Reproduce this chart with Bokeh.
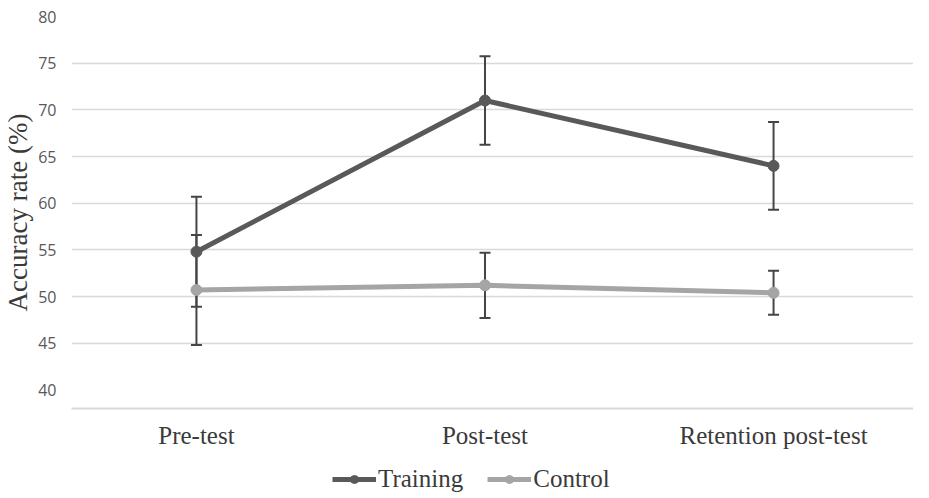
from bokeh.plotting import figure
from bokeh.layouts import column
from bokeh.models import (Range1d, FixedTicker, Whisker, TeeHead, ColumnDataSource,
                          Legend, LegendItem)
from bokeh.embed import file_html
from bokeh.resources import INLINE

categories = ["Pre-test", "Post-test", "Retention post-test"]
training = [54.8, 71.0, 64.0]
training_err = [5.9, 4.75, 4.7]
control = [50.7, 51.2, 50.4]
control_err = [5.9, 3.5, 2.35]
y_ticks = [40, 45, 50, 55, 60, 65, 70, 75, 80]

xs = list(range(len(categories)))

TRAIN_C = "#595959"
CTRL_C = "#a5a5a5"
ERR_C = "#454545"
SERIF = "Liberation Serif"

p = figure(width=913, height=451, output_backend="svg", toolbar_location=None,
           x_range=Range1d(-0.433, 2.485), y_range=Range1d(38.0, 80.0),
           min_border_top=16, min_border_right=0, min_border_bottom=42, min_border_left=64)
p.outline_line_color = None
p.background_fill_color = "white"
p.border_fill_color = "white"

p.xgrid.visible = False
p.ygrid.ticker = FixedTicker(ticks=[t for t in y_ticks if t > 40])
p.ygrid.grid_line_color = "#d9d9d9"
p.ygrid.grid_line_width = 1.6

p.yaxis.ticker = FixedTicker(ticks=y_ticks)
p.yaxis.axis_line_color = None
p.yaxis.major_tick_line_color = None
p.yaxis.minor_tick_line_color = None
p.yaxis.major_label_text_font = "Open Sans"
p.yaxis.major_label_text_font_size = "16px"
p.yaxis.major_label_text_color = "#595959"
p.yaxis.major_label_standoff = 9
p.yaxis.axis_label = "Accuracy rate (%)"
p.yaxis.axis_label_text_font = SERIF
p.yaxis.axis_label_text_font_style = "normal"
p.yaxis.axis_label_text_font_size = "27px"
p.yaxis.axis_label_text_color = "#3a3a3a"
p.yaxis.axis_label_standoff = 2

p.xaxis.ticker = FixedTicker(ticks=xs)
p.xaxis.major_label_overrides = {i: c for i, c in zip(xs, categories)}
p.xaxis.axis_line_color = "#d9d9d9"
p.xaxis.axis_line_width = 2
p.xaxis.major_tick_line_color = None
p.xaxis.minor_tick_line_color = None
p.xaxis.major_label_text_font = SERIF
p.xaxis.major_label_text_font_size = "25px"
p.xaxis.major_label_text_color = "#3a3a3a"
p.xaxis.major_label_standoff = 7

src_t = ColumnDataSource(dict(x=xs, y=training,
                              lo=[v - e for v, e in zip(training, training_err)],
                              hi=[v + e for v, e in zip(training, training_err)]))
src_c = ColumnDataSource(dict(x=xs, y=control,
                              lo=[v - e for v, e in zip(control, control_err)],
                              hi=[v + e for v, e in zip(control, control_err)]))

for src in (src_t, src_c):
    w = Whisker(source=src, base="x", upper="hi", lower="lo", level="underlay",
                line_color=ERR_C, line_width=2,
                upper_head=TeeHead(size=11, line_color=ERR_C, line_width=2),
                lower_head=TeeHead(size=11, line_color=ERR_C, line_width=2))
    p.add_layout(w)

p.line("x", "y", source=src_c, line_color=CTRL_C, line_width=5)
p.scatter("x", "y", source=src_c, size=11, fill_color=CTRL_C, line_color=CTRL_C)
p.line("x", "y", source=src_t, line_color=TRAIN_C, line_width=5)
p.scatter("x", "y", source=src_t, size=11, fill_color=TRAIN_C, line_color=TRAIN_C)

# legend strip below the chart (same series, styled identically)
lf = figure(width=913, height=45, output_backend="svg", toolbar_location=None,
            x_range=Range1d(100, 101), y_range=Range1d(100, 101),
            x_axis_type=None, y_axis_type=None,
            min_border_top=0, min_border_bottom=0, min_border_left=0, min_border_right=0)
lf.outline_line_color = None
lf.grid.visible = False
lt = lf.line("x", "y", source=src_t, line_color=TRAIN_C, line_width=5)
st = lf.scatter("x", "y", source=src_t, size=11, fill_color=TRAIN_C, line_color=TRAIN_C)
lc = lf.line("x", "y", source=src_c, line_color=CTRL_C, line_width=5)
sc = lf.scatter("x", "y", source=src_c, size=11, fill_color=CTRL_C, line_color=CTRL_C)

legend = Legend(items=[LegendItem(label="Training", renderers=[lt, st]),
                       LegendItem(label="Control", renderers=[lc, sc])],
                orientation="horizontal", location=(261, 3))
legend.label_text_font = SERIF
legend.label_text_font_size = "25px"
legend.label_text_color = "#3a3a3a"
legend.label_height = 20
legend.glyph_width = 44
legend.glyph_height = 20
legend.label_standoff = 2
legend.spacing = 24
legend.padding = 0
legend.margin = 0
legend.border_line_color = None
legend.background_fill_alpha = 0
lf.add_layout(legend, "center")

layout = column(p, lf, spacing=0)
open("out.html", "w").write(file_html(layout, INLINE))
